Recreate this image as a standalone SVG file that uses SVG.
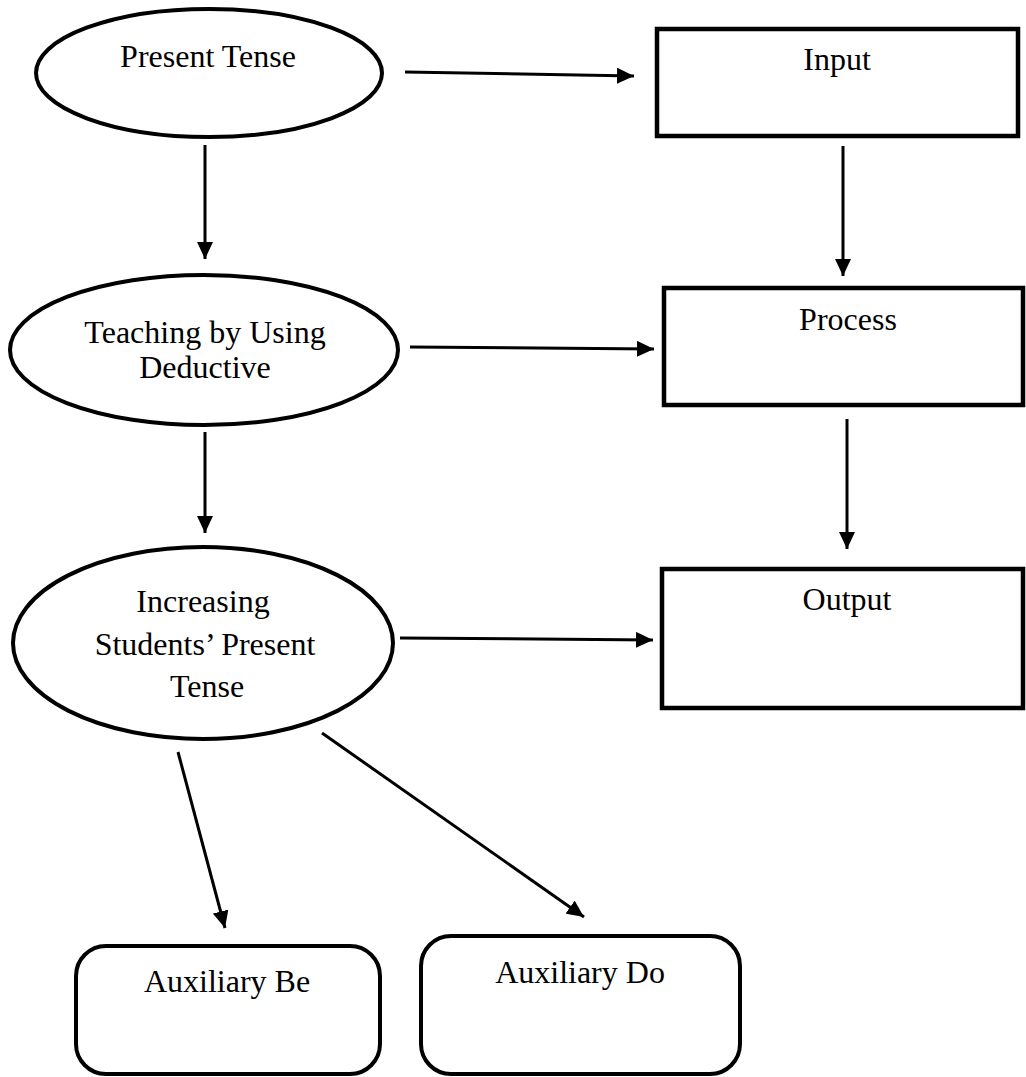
<svg xmlns="http://www.w3.org/2000/svg" width="1026" height="1077" viewBox="0 0 1026 1077">
<style>
  .shape { fill: #fff; stroke: #000; }
  .ell { stroke-width: 4; }
  .box { stroke-width: 4.5; }
  .rbox { stroke-width: 4; }
  .lbl { font-family: "Liberation Serif", "Times New Roman", serif; font-size: 32px; fill: #000; text-anchor: middle; }
  .conn { stroke: #000; stroke-width: 3; fill: none; marker-end: url(#arrow); }
</style>
<defs>
  <marker id="arrow" markerUnits="userSpaceOnUse" markerWidth="17" markerHeight="16" refX="17" refY="8" orient="auto">
    <path d="M0,0 L17,8 L0,16 z" fill="#000"/>
  </marker>
</defs>
<rect width="1026" height="1077" fill="#fff"/>
<g id="n-present-tense">
  <ellipse class="shape ell" cx="209" cy="73" rx="173" ry="64"/>
  <text class="lbl" x="208" y="67">Present Tense</text>
</g>
<g id="n-input">
  <rect class="shape box" x="657" y="29" width="361" height="107"/>
  <text class="lbl" x="837" y="70">Input</text>
</g>
<g id="n-teaching">
  <ellipse class="shape ell" cx="204" cy="350" rx="194" ry="75"/>
  <text class="lbl" x="205" y="343">Teaching by Using</text>
  <text class="lbl" x="205" y="378">Deductive</text>
</g>
<g id="n-process">
  <rect class="shape box" x="664" y="288" width="359" height="117"/>
  <text class="lbl" x="848" y="330">Process</text>
</g>
<g id="n-increasing">
  <ellipse class="shape ell" cx="203" cy="643" rx="190" ry="96"/>
  <text class="lbl" x="203" y="612">Increasing</text>
  <text class="lbl" x="205" y="655">Students’ Present</text>
  <text class="lbl" x="207" y="697">Tense</text>
</g>
<g id="n-output">
  <rect class="shape box" x="662" y="569" width="361" height="139"/>
  <text class="lbl" x="847" y="610">Output</text>
</g>
<g id="n-aux-be">
  <rect class="shape rbox" x="76" y="946" width="304" height="128" rx="30" ry="30"/>
  <text class="lbl" x="227" y="992">Auxiliary Be</text>
</g>
<g id="n-aux-do">
  <rect class="shape rbox" x="421" y="936" width="319" height="138" rx="30" ry="30"/>
  <text class="lbl" x="580" y="983">Auxiliary Do</text>
</g>
<g id="connectors">
  <line class="conn" x1="405" y1="72" x2="634" y2="76"/>
  <line class="conn" x1="205" y1="145" x2="205" y2="259"/>
  <line class="conn" x1="843" y1="146" x2="843" y2="276"/>
  <line class="conn" x1="410" y1="347" x2="654" y2="349"/>
  <line class="conn" x1="205" y1="432" x2="205" y2="533"/>
  <line class="conn" x1="847" y1="419" x2="847" y2="549"/>
  <line class="conn" x1="400" y1="638" x2="653" y2="640"/>
  <line class="conn" x1="178" y1="752" x2="225" y2="928"/>
  <line class="conn" x1="322" y1="733" x2="584" y2="917"/>
</g>
</svg>
